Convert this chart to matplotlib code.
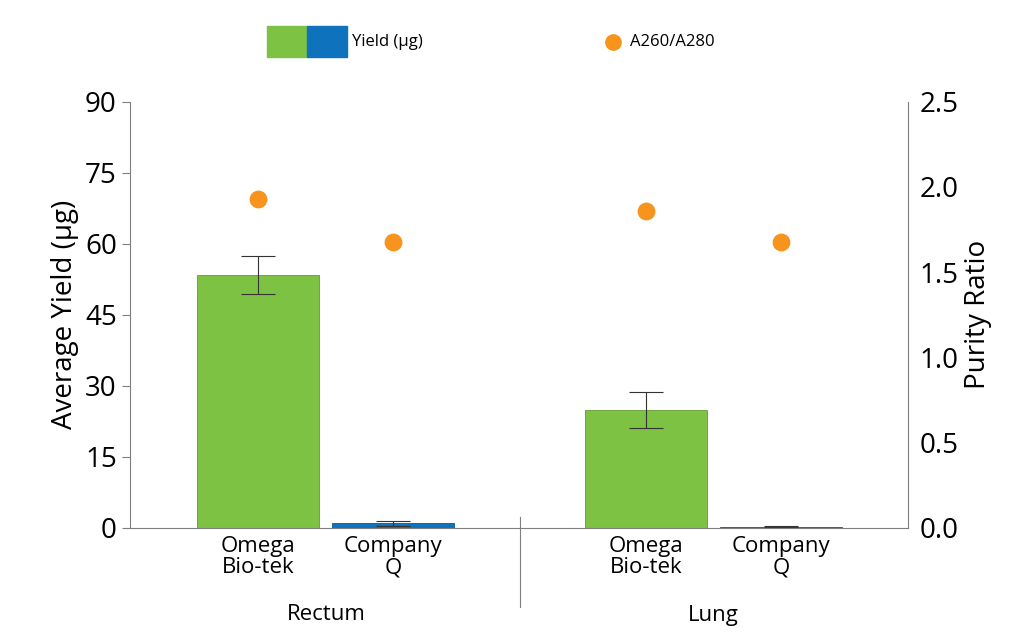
import matplotlib.pyplot as plt
from matplotlib.patches import Rectangle

plt.rcParams['font.family'] = ['Open Sans', 'DejaVu Sans']

tissues = ['Rectum', 'Lung']
kits = ['Omega\nBio-tek', 'Company\nQ']
yield_vals = [53.5, 1.0, 24.8, 0.2]
yield_err = [4.0, 0.5, 3.8, 0.1]
purity = [1.93, 1.68, 1.86, 1.68]

green = '#7dc242'
blue = '#0e72bd'
orange = '#f7941d'
gray = '#7f7f7f'

fig = plt.figure(figsize=(10.24, 6.36), dpi=100)
ax = fig.add_axes([0.127, 0.170, 0.76, 0.670])
x = [258, 393, 646, 781]
colors = [green, blue, green, blue]
ax.bar(x, yield_vals, width=122, color=colors, edgecolor=[ '#5e9e30', '#0a5a96'] * 2, linewidth=0.6)
ax.errorbar(x, yield_vals, yerr=yield_err, fmt='none', ecolor='#333333', elinewidth=0.8, capsize=12, capthick=0.8)
ax.set_xlim(130, 908)
ax.set_ylim(0, 90)
ax.set_yticks(range(0, 91, 15))
ax.set_ylabel('Average Yield (µg)', fontsize=20)
ax.tick_params(axis='y', labelsize=20, color=gray, direction='out', length=6)
ax.set_xticks(x)
ax.set_xticklabels(kits * 2, fontsize=16, linespacing=1.0)
ax.tick_params(axis='x', length=0, pad=6)
for s in ['top', 'right']:
    ax.spines[s].set_visible(False)
for s in ['left', 'bottom']:
    ax.spines[s].set_color(gray)

ax2 = ax.twinx()
ax2.scatter(x, purity, s=140, color=orange, zorder=5)
ax2.set_ylim(0, 2.5)
ax2.set_yticks([0, 0.5, 1.0, 1.5, 2.0, 2.5])
ax2.set_yticklabels(['0.0', '0.5', '1.0', '1.5', '2.0', '2.5'])
ax2.set_ylabel('Purity Ratio', fontsize=20)
ax2.tick_params(axis='y', labelsize=20, length=0, pad=8)
for s in ['top', 'left', 'bottom']:
    ax2.spines[s].set_visible(False)
ax2.spines['right'].set_color(gray)

# group labels and divider
fig.text(326 / 1024, 1 - 615 / 636, tissues[0], fontsize=16, ha='center', va='center')
fig.text(713 / 1024, 1 - 615 / 636, tissues[1], fontsize=16, ha='center', va='center')
fig.add_artist(plt.Line2D([520 / 1024] * 2, [1 - 517 / 636, 1 - 607 / 636], color=gray, lw=0.8))

# legend
fig.add_artist(Rectangle((267 / 1024, 1 - 57 / 636), 40 / 1024, 31 / 636, color=green))
fig.add_artist(Rectangle((307 / 1024, 1 - 57 / 636), 40 / 1024, 31 / 636, color=blue))
fig.text(352 / 1024, 1 - 42 / 636, 'Yield (µg)', fontsize=12, va='center')
fig.add_artist(plt.Line2D([613 / 1024], [1 - 42 / 636], marker='o', markersize=11, color=orange, lw=0))
fig.text(630 / 1024, 1 - 42 / 636, 'A260/A280', fontsize=12, va='center')

fig.savefig('out.png', dpi=100)
